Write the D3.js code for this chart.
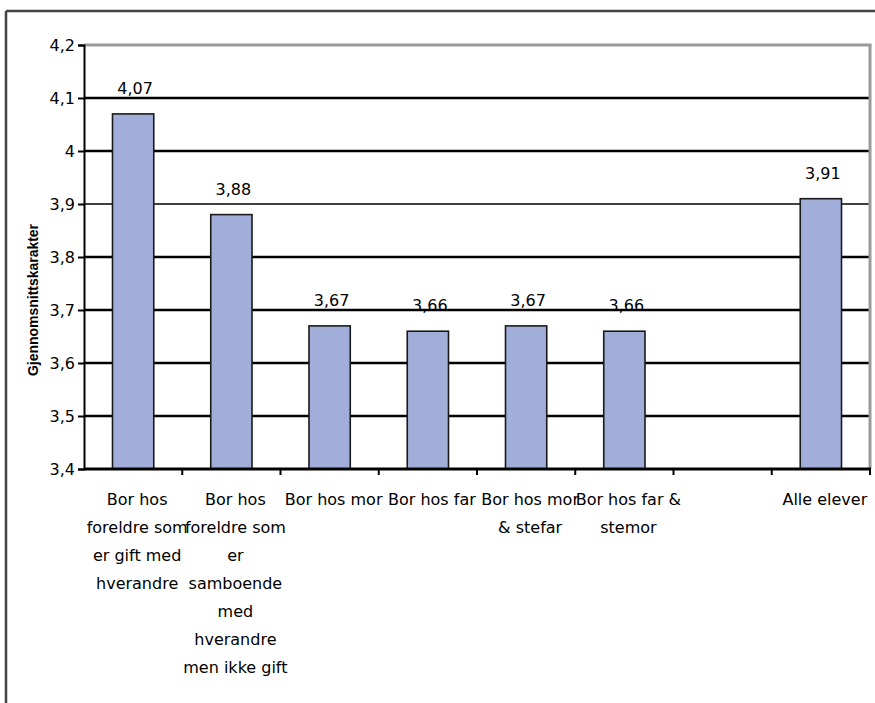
<!DOCTYPE html>
<html>
<head>
<meta charset="utf-8">
<script src="https://cdn.jsdelivr.net/npm/d3@7/dist/d3.min.js"></script>
<style>
  html, body { margin: 0; padding: 0; background: #fff; }
  svg { display: block; }
</style>
</head>
<body>
<svg id="chart" width="875" height="703"></svg>
<script>
// ---- data ----
const categories = ["c1", "c2", "c3", "c4", "c5", "c6", "c7", "c8"];
const categoryLabels = [
  ["Bor hos", "foreldre som", "er gift med", "hverandre"],
  ["Bor hos", "foreldre som", "er", "samboende", "med", "hverandre", "men ikke gift"],
  ["Bor hos mor"],
  ["Bor hos far"],
  ["Bor hos mor", "& stefar"],
  ["Bor hos far &", "stemor"],
  [],
  ["Alle elever"]
];
const values = [4.07, 3.88, 3.67, 3.66, 3.67, 3.66, null, 3.91];
const valueLabels = ["4,07", "3,88", "3,67", "3,66", "3,67", "3,66", "", "3,91"];
const yTicks = [3.4, 3.5, 3.6, 3.7, 3.8, 3.9, 4.0, 4.1, 4.2];
const yTickLabels = ["3,4", "3,5", "3,6", "3,7", "3,8", "3,9", "4", "4,1", "4,2"];
const yTitle = "Gjennomsnittskarakter";

(function () {
// ---- layout ----
const svg = d3.select("#chart");
const pLeft = 84, pRight = 870, pTop = 45, pBottom = 469;
const font = "'DejaVu Sans', Verdana, sans-serif";

// outer frame
svg.append("line").attr("x1", 6).attr("x2", 6).attr("y1", 11).attr("y2", 703)
  .attr("stroke", "#444").attr("stroke-width", 2.5);
svg.append("line").attr("x1", 6).attr("x2", 875).attr("y1", 11).attr("y2", 11)
  .attr("stroke", "#444").attr("stroke-width", 2.5);

const x = d3.scaleBand().domain(categories).range([pLeft, pRight])
  .paddingInner(0.58).paddingOuter(0.29);
const y = d3.scaleLinear().domain([3.4, 4.2]).range([pBottom, pTop]);
const step = x.step();

// gridlines
const g = svg.append("g");
yTicks.forEach((t, i) => {
  if (i === 0 || i === yTicks.length - 1) return;
  g.append("line")
    .attr("x1", pLeft).attr("x2", pRight)
    .attr("y1", Math.round(y(t))).attr("y2", Math.round(y(t)))
    .attr("stroke", "#000")
    .attr("stroke-width", Math.abs(t - 3.9) < 1e-6 ? 1.4 : 2.6);
});

// plot area top and right border (gray)
svg.append("line").attr("x1", pLeft).attr("x2", pRight + 1.5).attr("y1", pTop).attr("y2", pTop)
  .attr("stroke", "#9a9a9a").attr("stroke-width", 3);
svg.append("line").attr("x1", pRight).attr("x2", pRight).attr("y1", pTop).attr("y2", pBottom)
  .attr("stroke", "#9a9a9a").attr("stroke-width", 3);

const rows = categories.map((c, i) => ({ c, v: values[i], l: valueLabels[i] })).filter(d => d.v != null);

// bars
svg.append("g").selectAll("rect")
  .data(rows)
  .join("rect")
  .attr("x", d => x(d.c))
  .attr("y", d => y(d.v))
  .attr("width", x.bandwidth())
  .attr("height", d => y(3.4) - y(d.v))
  .attr("fill", "#a0aed9")
  .attr("stroke", "#1a1a1a")
  .attr("stroke-width", 1.6);

// value labels
svg.append("g").selectAll("text")
  .data(rows)
  .join("text")
  .attr("x", d => x(d.c) + x.bandwidth() / 2 + 2)
  .attr("y", d => y(d.v) - 20)
  .attr("text-anchor", "middle")
  .attr("font-family", font)
  .attr("font-size", 16)
  .attr("fill", "#000")
  .text(d => d.l);

// y axis
const yAxis = d3.axisLeft(y).tickValues(yTicks)
  .tickFormat((d, i) => yTickLabels[i]).tickSize(6).tickPadding(3);
const ya = svg.append("g").attr("transform", `translate(${pLeft},0)`).call(yAxis);
ya.select(".domain").attr("stroke", "#000").attr("stroke-width", 2);
ya.selectAll(".tick line").attr("stroke", "#000").attr("stroke-width", 2);
ya.selectAll(".tick text").attr("font-family", font).attr("font-size", 16).attr("fill", "#000");

// x axis line and ticks between categories
svg.append("line").attr("x1", pLeft).attr("x2", pRight + 1).attr("y1", pBottom).attr("y2", pBottom)
  .attr("stroke", "#000").attr("stroke-width", 3);
const bounds = categories.map(c => x(c) - (step - x.bandwidth()) / 2 + step);
svg.append("g").selectAll("line").data(bounds).join("line")
  .attr("x1", d => d).attr("x2", d => d)
  .attr("y1", pBottom).attr("y2", pBottom + 6)
  .attr("stroke", "#000").attr("stroke-width", 2);

// category labels
const cl = svg.append("g");
categories.forEach((c, i) => {
  const cx = x(c) + x.bandwidth() / 2 + 4;
  const t = cl.append("text")
    .attr("text-anchor", "middle")
    .attr("font-family", font)
    .attr("font-size", 16)
    .attr("fill", "#000");
  categoryLabels[i].forEach((line, k) => {
    t.append("tspan").attr("x", cx).attr("y", 505 + k * 28).text(line);
  });
});

// y axis title
svg.append("text")
  .attr("transform", "translate(38,300) rotate(-90)")
  .attr("text-anchor", "middle")
  .attr("font-family", "'Liberation Sans Narrow', 'Arial Narrow', 'Liberation Sans', sans-serif")
  .attr("font-weight", "bold")
  .attr("font-size", 14)
  .attr("textLength", 152)
  .attr("lengthAdjust", "spacingAndGlyphs")
  .attr("fill", "#000")
  .text(yTitle);
})();
</script>
</body>
</html>
